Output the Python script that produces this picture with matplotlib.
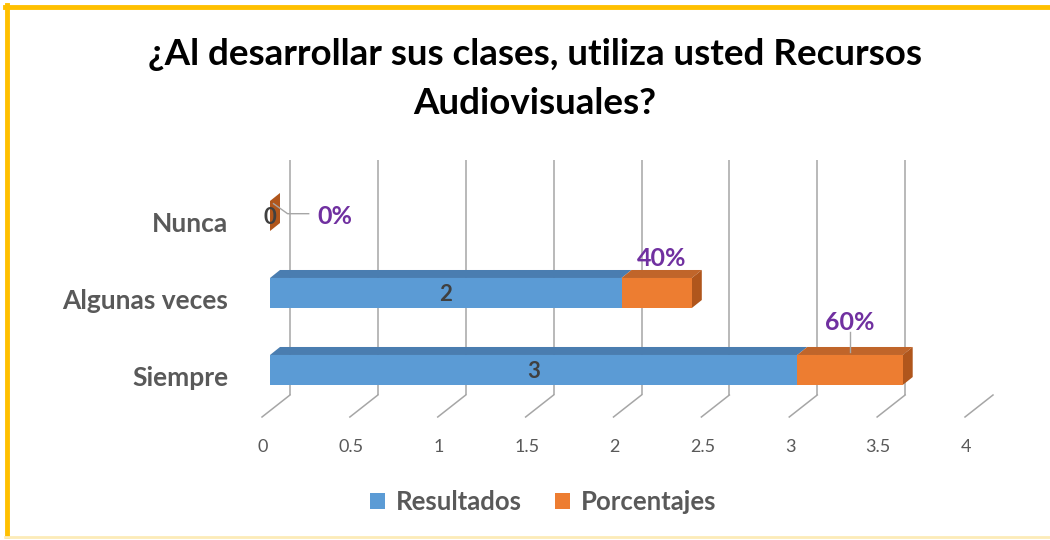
import numpy as np
import matplotlib
matplotlib.use("Agg")
import matplotlib.pyplot as plt
from matplotlib.patches import Polygon
from matplotlib.lines import Line2D
from matplotlib.transforms import ScaledTranslation

plt.rcParams['font.family'] = ['Lato', 'DejaVu Sans']

# data
categorias = ["Siempre", "Algunas veces", "Nunca"]
resultados = [3, 2, 0]
porcentajes = [0.6, 0.4, 0.0]
etiquetas_pct = ["60%", "40%", "0%"]
ticks = [0, 0.5, 1, 1.5, 2, 2.5, 3, 3.5, 4]
tick_labels = ["0", "0.5", "1", "1.5", "2", "2.5", "3", "3.5", "4"]
series = ["Resultados", "Porcentajes"]

AZUL = "#5B9BD5"
AZUL_TOP = "#4A7DB0"
NARANJA = "#ED7D31"
NARANJA_TOP = "#C0652A"
NARANJA_SIDE = "#B0561C"
GRIS = "#595959"
MORADO = "#7030A0"

fig = plt.figure(figsize=(10.5, 5.4), dpi=100)
fig.patch.set_facecolor("white")

# axes geometry (pixels) so the pseudo-3d offsets can be set in pixels
L, R, B, T = 270, 973, 417, 160
ax = fig.add_axes([L / 1050, (540 - B) / 540, (R - L) / 1050, (B - T) / 540])
PX_X = (R - L) / 4.0
PX_Y = 77.0
y0 = -(B - 370) / PX_Y
y1 = (370 - T) / PX_Y
ax.set_xlim(0, 4)
ax.set_ylim(y0, y1)

y = np.arange(len(categorias))
h = 0.39

# back wall gridlines and floor
back_dx = 20 / PX_X
front_dx = -8 / PX_X
floor_back = -(395 - 370) / PX_Y
ax.vlines(np.array(ticks) + back_dx, floor_back, y1, color="#A6A6A6", lw=1.1, zorder=1)
for v in ticks:
    ax.plot([v + front_dx, v + back_dx], [y0, floor_back], color="#A6A6A6", lw=1.1,
            zorder=1, clip_on=False)

# bars (front faces)
b1 = ax.barh(y, resultados, height=h, color=AZUL, zorder=3, label=series[0])
b2 = ax.barh(y, porcentajes, left=resultados, height=h, color=NARANJA, zorder=3, label=series[1])

# depth faces
dx = 10 / PX_X
dy = 8 / PX_Y
for i in range(len(categorias)):
    top = y[i] + h / 2
    bot = y[i] - h / 2
    a0, a1 = 0, resultados[i]
    c1 = resultados[i] + porcentajes[i]
    ax.add_patch(Polygon([(a0, top), (a1, top), (a1 + dx, top + dy), (a0 + dx, top + dy)],
                         closed=True, color=AZUL_TOP, zorder=2.5, lw=0))
    ax.add_patch(Polygon([(a1, top), (c1, top), (c1 + dx, top + dy), (a1 + dx, top + dy)],
                         closed=True, color=NARANJA_TOP, zorder=2.6, lw=0))
    ax.add_patch(Polygon([(c1, bot), (c1, top), (c1 + dx, top + dy), (c1 + dx, bot + dy)],
                         closed=True, color=NARANJA_SIDE, zorder=2.7, lw=0))

# value labels
for i in range(len(categorias)):
    ax.text(resultados[i] / 2, y[i] - 0.02, str(resultados[i]), ha="center", va="center",
            fontsize=16, fontweight="bold", color="#404040", zorder=5)

# percentage labels
c = [resultados[i] + porcentajes[i] / 2 for i in range(3)]
ax.text(c[0] + 0.0, y[0] + 0.62, etiquetas_pct[0], ha="center", va="center",
        fontsize=18, fontweight="bold", color=MORADO, zorder=5)
ax.plot([c[0], c[0]], [y[0] + h / 2 + 0.04, y[0] + 0.5], color="#A6A6A6", lw=1, zorder=4)
ax.text(c[1] + 0.03, y[1] + 0.45, etiquetas_pct[1], ha="center", va="center",
        fontsize=18, fontweight="bold", color=MORADO, zorder=5)
ax.text(c[2] + 0.37, y[2] + 0.0, etiquetas_pct[2], ha="center", va="center",
        fontsize=18, fontweight="bold", color=MORADO, zorder=5)
ax.plot([c[2] + 0.02, c[2] + 0.1, c[2] + 0.22], [y[2] + 0.16, y[2] + 0.03, y[2] + 0.03],
        color="#A6A6A6", lw=1, zorder=4)

# axes styling
for s in ax.spines.values():
    s.set_visible(False)
ax.set_facecolor("none")
ax.set_xticks(ticks)
ax.set_xticklabels(tick_labels, fontsize=13, color=GRIS)
ax.set_yticks(y)
ax.set_yticklabels(categorias, fontsize=19, fontweight="bold", color=GRIS)
ax.tick_params(axis="x", length=0, pad=16)
ax.tick_params(axis="y", length=0, pad=30)
off = ScaledTranslation(-7 / 100, 0, fig.dpi_scale_trans)
for lab in ax.get_xticklabels():
    lab.set_transform(lab.get_transform() + off)
off_y = ScaledTranslation(0, -6 / 100, fig.dpi_scale_trans)
for lab in ax.get_yticklabels():
    lab.set_transform(lab.get_transform() + off_y)

# title
fig.text(535 / 1050, 1 - 79 / 540,
         "¿Al desarrollar sus clases, utiliza usted Recursos\nAudiovisuales?",
         ha="center", va="center", fontsize=26.5, fontweight="bold", color="black",
         linespacing=1.58)

# legend
leg = fig.legend(handles=[b1, b2], labels=series, loc="center",
                 bbox_to_anchor=(543 / 1050, 1 - 502 / 540), ncol=2, frameon=False,
                 handlelength=0.6, handleheight=0.6, columnspacing=1.3, handletextpad=0.4,
                 prop={"size": 18.5, "weight": "bold"})
for t in leg.get_texts():
    t.set_color(GRIS)

# yellow frame: strong on top and left, pale at the bottom
fig.add_artist(Line2D([5 / 1050, 1], [1 - 7 / 540, 1 - 7 / 540], transform=fig.transFigure,
                      color="#FFC000", lw=3.5))
fig.add_artist(Line2D([7 / 1050, 7 / 1050], [1 - 5 / 540, 4 / 540], transform=fig.transFigure,
                      color="#FFC000", lw=3.5))
fig.add_artist(Line2D([5 / 1050, 1], [3 / 540, 3 / 540], transform=fig.transFigure,
                      color="#FCEBB8", lw=2))

fig.savefig("out.png", dpi=100)
